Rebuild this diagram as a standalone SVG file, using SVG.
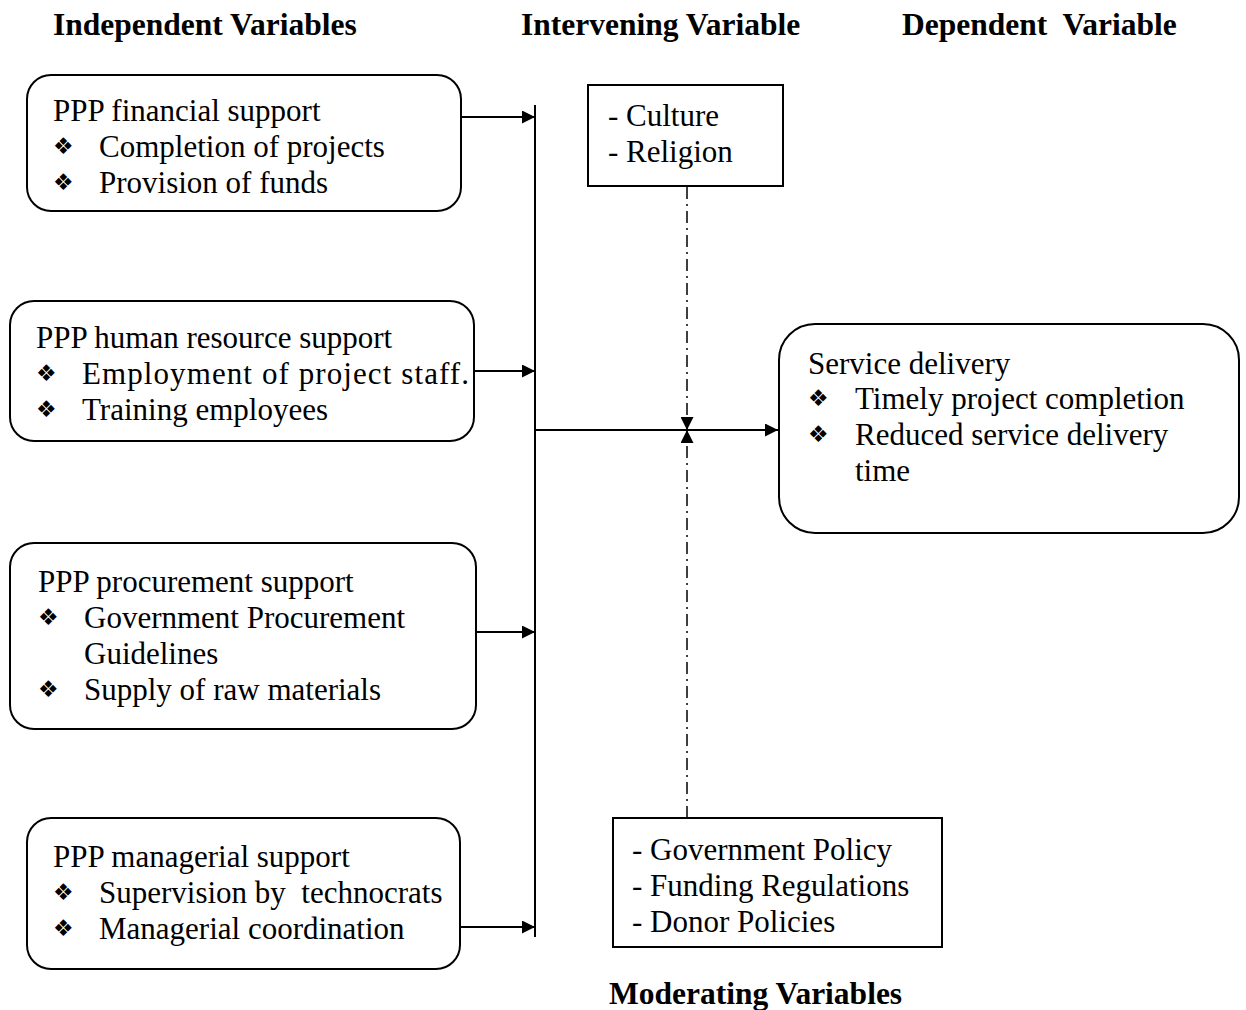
<svg xmlns="http://www.w3.org/2000/svg" width="1246" height="1010" viewBox="0 0 1246 1010">
<defs>
<style>
text{font-family:"Liberation Serif","Times New Roman",serif;font-size:31px;fill:#000}
.h{font-weight:bold;font-size:31.5px}
.b{font-family:"DejaVu Sans",sans-serif;font-size:23px}
.box{fill:#fff;stroke:#000;stroke-width:2}
.ln{stroke:#000;stroke-width:2;fill:none}
.dd{stroke:#000;stroke-width:1.5;fill:none;stroke-dasharray:12,5,2,5}
</style>
<marker id="ar" viewBox="0 0 10 10" refX="10" refY="5" markerWidth="17" markerHeight="13" markerUnits="userSpaceOnUse" orient="auto"><path d="M0,0L10,5L0,10z" fill="#000"/></marker>
</defs>
<rect width="1246" height="1010" fill="#fff"/>
<g id="headers">
<text class="h" x="53" y="35">Independent Variables</text>
<text class="h" x="521" y="35">Intervening Variable</text>
<text class="h" x="902" y="35" xml:space="preserve">Dependent  Variable</text>
<text class="h" x="609" y="1004">Moderating Variables</text>
</g>
<g id="connectors">
<line class="ln" x1="535" y1="105" x2="535" y2="937"/>
<line class="ln" x1="461" y1="117" x2="535" y2="117" marker-end="url(#ar)"/>
<line class="ln" x1="474" y1="371" x2="535" y2="371" marker-end="url(#ar)"/>
<line class="ln" x1="476" y1="632" x2="535" y2="632" marker-end="url(#ar)"/>
<line class="ln" x1="460" y1="927" x2="535" y2="927" marker-end="url(#ar)"/>
<line class="ln" x1="535" y1="430" x2="778" y2="430" marker-end="url(#ar)"/>
<line class="dd" x1="687" y1="187" x2="687" y2="430" marker-end="url(#ar)"/>
<line class="dd" x1="687" y1="818" x2="687" y2="430" marker-end="url(#ar)"/>
</g>
<g id="financial">
<rect class="box" x="27" y="75" width="434" height="136" rx="24"/>
<text x="53" y="121">PPP financial support</text>
<text class="b" x="53" y="154">❖</text><text x="99" y="157">Completion of projects</text>
<text class="b" x="53" y="190">❖</text><text x="99" y="193">Provision of funds</text>
</g>
<g id="human">
<rect class="box" x="10" y="301" width="464" height="140" rx="24"/>
<text x="36" y="348">PPP human resource support</text>
<text class="b" x="36" y="381">❖</text><text x="82" y="384" textLength="387">Employment of project staff.</text>
<text class="b" x="36" y="417">❖</text><text x="82" y="420">Training employees</text>
</g>
<g id="procurement">
<rect class="box" x="10" y="543" width="466" height="186" rx="24"/>
<text x="38" y="592">PPP procurement support</text>
<text class="b" x="38" y="625">❖</text><text x="84" y="628">Government Procurement</text>
<text x="84" y="664">Guidelines</text>
<text class="b" x="38" y="697">❖</text><text x="84" y="700">Supply of raw materials</text>
</g>
<g id="managerial">
<rect class="box" x="27" y="818" width="433" height="151" rx="24"/>
<text x="53" y="867">PPP managerial support</text>
<text class="b" x="53" y="900">❖</text><text x="99" y="903" xml:space="preserve">Supervision by  technocrats</text>
<text class="b" x="53" y="936">❖</text><text x="99" y="939">Managerial coordination</text>
</g>
<g id="service">
<rect class="box" x="779" y="324" width="460" height="209" rx="36"/>
<text x="808" y="374">Service delivery</text>
<text class="b" x="808" y="406">❖</text><text x="855" y="409">Timely project completion</text>
<text class="b" x="808" y="442">❖</text><text x="855" y="445">Reduced service delivery</text>
<text x="855" y="481">time</text>
</g>
<g id="intervening">
<rect class="box" x="588" y="85" width="195" height="101"/>
<text x="608" y="126">- Culture</text>
<text x="608" y="162">- Religion</text>
</g>
<g id="moderating">
<rect class="box" x="613" y="818" width="329" height="129"/>
<text x="632" y="860">- Government Policy</text>
<text x="632" y="896">- Funding Regulations</text>
<text x="632" y="932">- Donor Policies</text>
</g>
</svg>
